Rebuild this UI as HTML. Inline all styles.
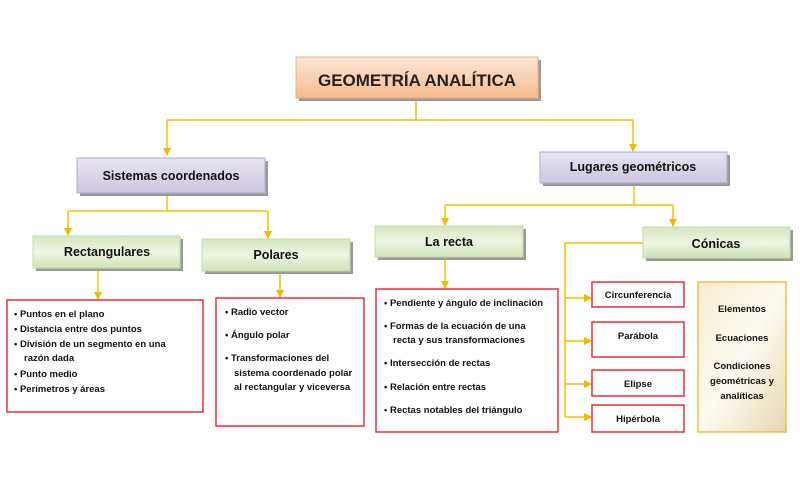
<!DOCTYPE html>
<html><head><meta charset="utf-8"><style>
html,body{margin:0;padding:0;background:#fff;}
svg{display:block;font-family:"Liberation Sans",sans-serif;font-weight:bold;}
</style></head><body>
<svg width="800" height="500" viewBox="0 0 800 500">
<defs>
<linearGradient id="gT" x1="0" y1="0" x2="0" y2="1"><stop offset="0" stop-color="#fde8d8"/><stop offset="1" stop-color="#f7b98b"/></linearGradient>
<linearGradient id="gP" x1="0" y1="0" x2="0" y2="1"><stop offset="0" stop-color="#e8e4f0"/><stop offset="1" stop-color="#cdc6df"/></linearGradient>
<linearGradient id="gG" x1="0" y1="0" x2="0" y2="1"><stop offset="0" stop-color="#d5e6bd"/><stop offset="0.5" stop-color="#eef5e4"/><stop offset="1" stop-color="#cfe2b3"/></linearGradient>
<linearGradient id="gY" x1="0" y1="0" x2="1" y2="1"><stop offset="0" stop-color="#f6ecd0"/><stop offset="0.5" stop-color="#fdfaf2"/><stop offset="1" stop-color="#e6d7b0"/></linearGradient>
<marker id="ar" markerWidth="8" markerHeight="8" refX="7" refY="4" orient="auto" markerUnits="userSpaceOnUse"><path d="M0,0 L8,4 L0,8 z" fill="#f5b800"/></marker>
</defs>
<g stroke="#f5c000" stroke-width="1.5" fill="none">
<path d="M416,98 V120"/><path d="M167,120 H633"/>
<path d="M167,120 V155" marker-end="url(#ar)"/><path d="M633,120 V151" marker-end="url(#ar)"/>
<path d="M167,193 V211 M68,211 H268"/>
<path d="M68,211 V235" marker-end="url(#ar)"/><path d="M268,211 V238" marker-end="url(#ar)"/>
<path d="M634,183 V205 M445,205 H673"/>
<path d="M445,205 V225" marker-end="url(#ar)"/><path d="M673,205 V226" marker-end="url(#ar)"/>
<path d="M98,268 V299" marker-end="url(#ar)"/><path d="M280,271 V297" marker-end="url(#ar)"/>
<path d="M445,258 V288" marker-end="url(#ar)"/>
<path d="M643,243 H565 V417"/>
<path d="M565,298 H591" marker-end="url(#ar)"/><path d="M565,341 H591" marker-end="url(#ar)"/>
<path d="M565,384 H591" marker-end="url(#ar)"/><path d="M565,417 H591" marker-end="url(#ar)"/>
</g>
<g fill="#9a9a9a">
<rect x="299" y="60" width="242" height="41"/><rect x="80" y="161" width="188" height="35"/>
<rect x="543" y="155" width="187" height="31"/><rect x="36" y="239" width="147" height="32"/>
<rect x="205" y="242" width="148" height="32"/><rect x="378" y="229" width="148" height="31"/>
<rect x="646" y="230" width="147" height="31"/>
</g>
<rect x="296" y="57" width="242" height="41" fill="url(#gT)" stroke="#f0b080"/>
<text x="417" y="86" font-size="17" text-anchor="middle" fill="#222">GEOMETRÍA ANALÍTICA</text>
<rect x="77" y="158" width="188" height="35" fill="url(#gP)" stroke="#9fb3d6"/>
<text x="171" y="180" font-size="12.5" text-anchor="middle" fill="#111">Sistemas coordenados</text>
<rect x="540" y="152" width="187" height="31" fill="url(#gP)" stroke="#9fb3d6"/>
<text x="633" y="171" font-size="12.5" text-anchor="middle" fill="#111">Lugares geométricos</text>
<g fill="url(#gG)" stroke="#c4dca4">
<rect x="33" y="236" width="147" height="32"/><rect x="202" y="239" width="148" height="32"/>
<rect x="375" y="226" width="148" height="31"/><rect x="643" y="227" width="147" height="31"/>
</g>
<g font-size="12.5" text-anchor="middle" fill="#111">
<text x="107" y="256">Rectangulares</text><text x="276" y="259">Polares</text>
<text x="449" y="246">La recta</text><text x="716" y="248">Cónicas</text>
</g>
<g fill="#fff" stroke="#e8303a" stroke-width="1.5">
<rect x="7" y="300" width="196" height="112"/><rect x="216" y="298" width="148" height="128"/>
<rect x="376" y="289" width="182" height="143"/>
<rect x="592" y="282" width="92" height="25"/><rect x="592" y="322" width="92" height="35"/>
<rect x="592" y="370" width="92" height="26"/><rect x="592" y="405" width="92" height="27"/>
</g>
<rect x="698" y="282" width="88" height="150" fill="url(#gY)" stroke="#f0c040" stroke-width="1.5"/>
<g font-size="9.5" fill="#111">
<text x="14" y="317">• Puntos en el plano</text>
<text x="14" y="332">• Distancia entre dos puntos</text>
<text x="14" y="347">• División de un segmento en una</text>
<text x="24" y="361">razón dada</text>
<text x="14" y="377">• Punto medio</text>
<text x="14" y="392">• Perímetros y áreas</text>
<text x="225" y="315">• Radio vector</text>
<text x="225" y="338">• Ángulo polar</text>
<text x="225" y="361">• Transformaciones del</text>
<text x="234" y="376">sistema coordenado polar</text>
<text x="234" y="390">al rectangular y viceversa</text>
<text x="384" y="306">• Pendiente y ángulo de inclinación</text>
<text x="384" y="329">• Formas de la ecuación de una</text>
<text x="393" y="343">recta y sus transformaciones</text>
<text x="384" y="366">• Intersección de rectas</text>
<text x="384" y="390">• Relación entre rectas</text>
<text x="384" y="413">• Rectas notables del triángulo</text>
</g>
<g font-size="9.5" fill="#111" text-anchor="middle">
<text x="638" y="298">Circunferencia</text>
<text x="638" y="339">Parábola</text>
<text x="638" y="387">Elipse</text>
<text x="638" y="422">Hipérbola</text>
<text x="742" y="312">Elementos</text>
<text x="742" y="341">Ecuaciones</text>
<text x="742" y="369">Condiciones</text>
<text x="742" y="384">geométricas y</text>
<text x="742" y="399">analíticas</text>
</g>
</svg>
</body></html>
